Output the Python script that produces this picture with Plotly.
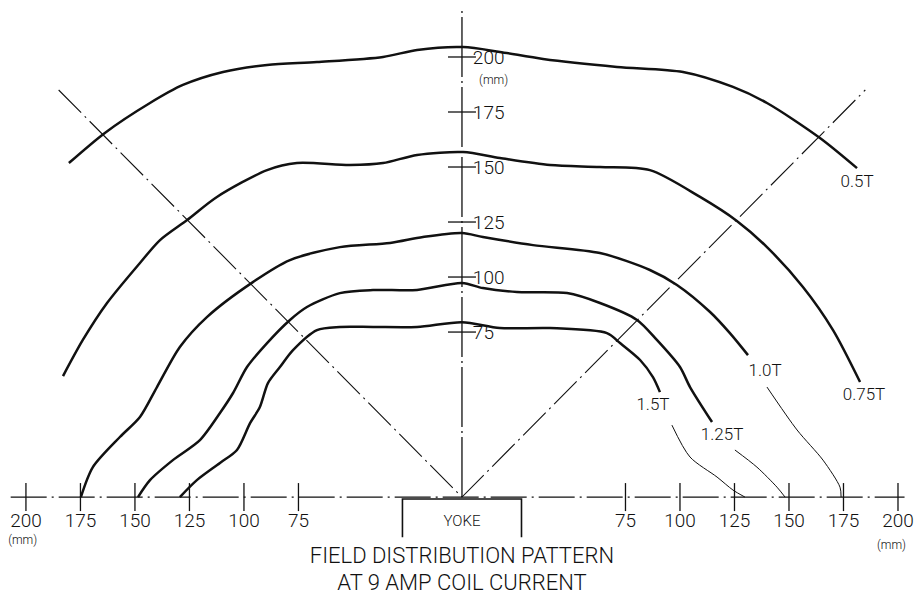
import plotly.graph_objects as go

# ---- contour curves (mm) ----
b05_x = [-180.3, -163.8, -143.1, -128.0, -109.6, -89.4, -66.5, -36.2, -20.6, 0.5, 17.4, 37.2, 71.1, 101.4, 124.3, 139.9, 164.2, 181.2]
b05_y = [151.8, 165.5, 179.1, 187.3, 193.2, 196.4, 197.7, 200.0, 203.2, 204.5, 202.3, 199.1, 195.5, 193.2, 186.4, 179.1, 163.2, 149.5]

b075_x = [-183.0, -173.9, -162.8, -147.7, -138.5, -126.1, -112.4, -89.4, -75.7, -51.4, -36.2, -20.6, 0.5, 17.4, 40.4, 63.3, 86.2, 109.2, 126.1, 139.9, 156.4, 170.2, 182.6]
b075_y = [55.0, 71.4, 88.2, 106.4, 116.8, 125.9, 136.4, 148.6, 151.8, 150.9, 151.8, 155.5, 156.8, 154.1, 150.9, 150.0, 148.6, 136.4, 125.5, 113.6, 95.5, 75.9, 52.3]

b10_x = [-174.8, -169.3, -156.9, -147.7, -139.9, -129.4, -117.0, -95.9, -78.9, -56.0, -33.0, -17.9, 0.0, 9.6, 32.6, 63.3, 86.2, 98.6, 113.8, 122.9, 131.2]
b10_y = [0.0, 13.6, 27.3, 36.4, 50.0, 68.2, 81.8, 97.7, 107.7, 113.6, 115.5, 118.2, 120.0, 118.2, 114.5, 110.9, 103.2, 96.4, 84.1, 74.5, 64.5]

b125_x = [-148.6, -143.1, -132.6, -120.2, -111.0, -105.0, -98.6, -89.4, -78.9, -71.1, -56.0, -40.8, -20.6, 0.0, 9.6, 25.2, 48.2, 63.3, 80.3, 89.4, 100.0, 104.6, 114.7]
b125_y = [0.0, 7.7, 16.8, 25.9, 38.2, 47.3, 59.1, 70.0, 80.5, 86.4, 92.7, 94.1, 94.1, 97.3, 95.0, 93.2, 92.7, 88.2, 80.5, 71.4, 59.1, 50.0, 34.1]

b15_x = [-129.4, -121.6, -111.0, -103.2, -97.2, -92.7, -89.0, -83.5, -77.5, -66.5, -56.0, -40.8, -20.6, 0.0, 17.4, 40.4, 66.5, 72.5, 81.7, 87.6, 90.8]
b15_y = [0.0, 7.7, 15.5, 21.4, 33.6, 40.9, 51.8, 59.1, 66.8, 75.9, 77.3, 77.3, 77.3, 79.5, 76.8, 76.8, 74.5, 70.0, 62.3, 54.5, 47.7]

# ---- leader lines from labels to the horizontal axis ----
lead10_x = [139.9, 153.7, 165.6, 173.4, 173.9]
lead10_y = [50.0, 30.5, 16.8, 4.5, 0.0]
lead125_x = [125.2, 135.3, 144.5, 148.2]
lead125_y = [21.4, 13.6, 4.5, 0.0]
lead15_x = [96.3, 104.6, 117.0, 124.3, 129.8]
lead15_y = [32.7, 18.2, 9.1, 3.2, 0.0]

# ---- labels ----
curve_labels = ["0.5T", "0.75T", "1.0T", "1.25T", "1.5T"]
label_x = [181.2, 184.4, 139.0, 119.3, 87.6]
label_y = [142.7, 45.9, 56.8, 27.7, 41.4]

x_ticks = [-200, -175, -150, -125, -100, -75, 75, 100, 125, 150, 175, 200]
x_tick_text = ["200", "175", "150", "125", "100", "75", "75", "100", "125", "150", "175", "200"]
y_ticks = [75, 100, 125, 150, 175, 200]
y_tick_text = ["75", "100", "125", "150", "175", "200"]

diag_len = 185
yoke_half = 27.3
yoke_depth = -18.2

title_lines = ["FIELD DISTRIBUTION PATTERN", "AT 9 AMP COIL CURRENT"]

FONT = dict(family="Roboto, 'DejaVu Sans', sans-serif", color="#111111", weight=300)
INK = "#111111"

fig = go.Figure()

dashdot = "36px,5px,2px,5px"
# horizontal axis
fig.add_trace(go.Scatter(x=[-207, 203], y=[0, 0], mode="lines",
                         line=dict(color=INK, width=1.3, dash=dashdot)))
# vertical axis
fig.add_trace(go.Scatter(x=[0, 0], y=[0, 221], mode="lines",
                         line=dict(color=INK, width=1.3, dash="60px,4px,2px,4px")))
# diagonals
fig.add_trace(go.Scatter(x=[-diag_len, 0, diag_len], y=[diag_len, 0, diag_len], mode="lines",
                         line=dict(color=INK, width=1.1, dash="32px,5px,2px,5px")))

# contour curves
for cx, cy in [(b05_x, b05_y), (b075_x, b075_y), (b10_x, b10_y), (b125_x, b125_y), (b15_x, b15_y)]:
    fig.add_trace(go.Scatter(x=cx, y=cy, mode="lines", line=dict(color=INK, width=2.5, shape="spline", smoothing=0.8)))

# leaders
for lx, ly in [(lead10_x, lead10_y), (lead125_x, lead125_y), (lead15_x, lead15_y)]:
    fig.add_trace(go.Scatter(x=lx, y=ly, mode="lines", line=dict(color=INK, width=1.0, shape="spline", smoothing=0.8)))

# tick marks
fig.add_trace(go.Scatter(x=x_ticks, y=[0] * len(x_ticks), mode="markers",
                         marker=dict(symbol="line-ns", size=20, line=dict(color=INK, width=1.3))))
fig.add_trace(go.Scatter(x=[0] * len(y_ticks), y=y_ticks, mode="markers",
                         marker=dict(symbol="line-ew", size=20, line=dict(color=INK, width=1.3))))

# tick labels
fig.add_trace(go.Scatter(x=x_ticks, y=[-11.4] * len(x_ticks), mode="text", text=x_tick_text,
                         textfont=dict(size=19, **FONT)))
fig.add_trace(go.Scatter(x=[5.0] * len(y_ticks), y=[v - 0.8 for v in y_ticks], mode="text", text=y_tick_text,
                         textposition="middle right", textfont=dict(size=19, **FONT)))
fig.add_trace(go.Scatter(x=[-201.5, 197.0, 14.5], y=[-20.0, -22.3, 189.0], mode="text",
                         text=["(mm)", "(mm)", "(mm)"], textfont=dict(size=12, **FONT)))

# curve labels
fig.add_trace(go.Scatter(x=label_x, y=label_y, mode="text", text=curve_labels,
                         textfont=dict(size=17, **FONT)))

# yoke
fig.add_trace(go.Scatter(x=[-yoke_half, -yoke_half, yoke_half, yoke_half],
                         y=[yoke_depth, -0.9, -0.9, yoke_depth], mode="lines",
                         line=dict(color=INK, width=1.6)))
fig.add_trace(go.Scatter(x=[0], y=[-11.4], mode="text", text=["YOKE"],
                         textfont=dict(size=15, **FONT)))

# title
fig.add_trace(go.Scatter(x=[0, 0], y=[-27.3, -39.6], mode="text", text=title_lines,
                         textfont=dict(size=22, **FONT)))

fig.update_layout(
    width=915, height=606,
    margin=dict(l=0, r=0, t=0, b=0),
    paper_bgcolor="white", plot_bgcolor="white",
    showlegend=False,
    xaxis=dict(range=[-211.9, 207.8], visible=False, fixedrange=True),
    yaxis=dict(range=[-49.5, 225.9], visible=False, fixedrange=True),
)

fig.write_html("out.html", config={"displayModeBar": False},
               post_script="document.body.style.margin='0';document.body.style.overflow='hidden';")
